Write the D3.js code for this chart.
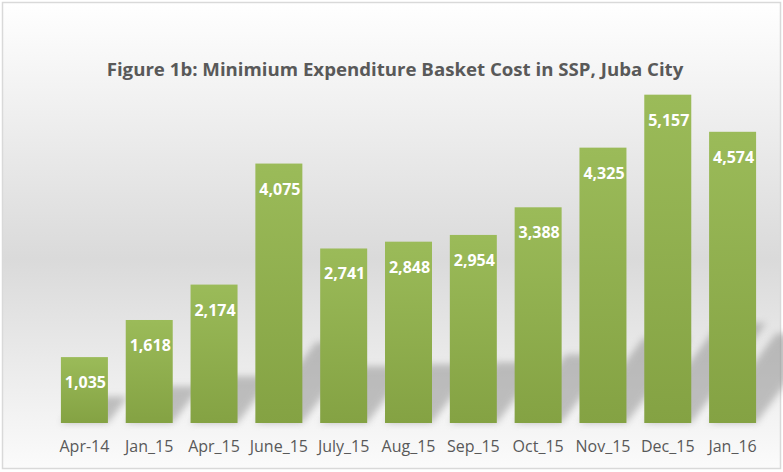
<!DOCTYPE html>
<html>
<head>
<meta charset="utf-8">
<style>
html, body { margin: 0; padding: 0; background: #fff; }
text { font-family: "Open Sans", sans-serif; }
.title { font-weight: bold; fill: #595959; }
.tick text { fill: #595959; font-size: 16px; }
.val { fill: #fff; font-weight: bold; font-size: 16px; }
</style>
</head>
<body>
<script src="https://cdn.jsdelivr.net/npm/d3@7"></script>
<script>
var categories = ['Apr-14', 'Jan_15', 'Apr_15', 'June_15', 'July_15', 'Aug_15', 'Sep_15', 'Oct_15', 'Nov_15', 'Dec_15', 'Jan_16']
var values = [1035, 1618, 2174, 4075, 2741, 2848, 2954, 3388, 4325, 5157, 4574]
var title = 'Figure 1b: Minimium Expenditure Basket Cost in SSP, Juba City'

var width = 783
var height = 472
var base = 423

var svg = d3.select('body').append('svg')
    .attr('width', width)
    .attr('height', height)

var defs = svg.append('defs')

var bg = defs.append('linearGradient').attr('id', 'bg')
    .attr('x1', 0).attr('y1', 0).attr('x2', 0).attr('y2', 1)
bg.append('stop').attr('offset', '0%').attr('stop-color', '#ffffff')
bg.append('stop').attr('offset', '55%').attr('stop-color', '#dadada')
bg.append('stop').attr('offset', '78%').attr('stop-color', '#ebebeb')
bg.append('stop').attr('offset', '100%').attr('stop-color', '#fbfbfb')

var barGrad = defs.append('linearGradient').attr('id', 'bar')
    .attr('x1', 0).attr('y1', 0).attr('x2', 0).attr('y2', 1)
barGrad.append('stop').attr('offset', '0%').attr('stop-color', '#9bbb59')
barGrad.append('stop').attr('offset', '100%').attr('stop-color', '#84a243')

defs.append('filter').attr('id', 'blur')
    .attr('x', '-50%').attr('y', '-50%').attr('width', '200%').attr('height', '200%')
  .append('feGaussianBlur').attr('stdDeviation', 3.5)

// chart area with border
svg.append('rect')
    .attr('x', 2.5).attr('y', 2.5)
    .attr('width', width - 5).attr('height', 466)
    .attr('fill', 'url(#bg)')
    .attr('stroke', '#d9d9d9')
    .attr('stroke-width', 1.5)

var x = d3.scaleBand()
    .domain(categories)
    .range([52, 765])
    .paddingInner(0.275)
    .paddingOuter(0.1375)

var y = d3.scaleLinear()
    .domain([0, 6000])
    .range([base, 41])

// perspective shadows behind bars
svg.append('g').selectAll('path')
    .data(values)
    .join('path')
    .attr('d', function (d, i) {
        var x0 = x(categories[i])
        var x1 = x0 + x.bandwidth()
        var h = (base - y(d)) * 0.28 + 8
        var dx = h * 0.75
        return 'M' + x0 + ',' + base + 'L' + x1 + ',' + base +
            'L' + (x1 + dx) + ',' + (base - h) + 'L' + (x0 + dx) + ',' + (base - h) + 'Z'
    })
    .attr('fill', '#8a8a8a')
    .attr('opacity', 0.5)
    .attr('filter', 'url(#blur)')

svg.append('g').selectAll('rect')
    .data(values)
    .join('rect')
    .attr('x', function (d, i) { return x(categories[i]) })
    .attr('y', function (d) { return y(d) })
    .attr('width', x.bandwidth())
    .attr('height', function (d) { return base - y(d) })
    .attr('fill', 'url(#bar)')

svg.append('g').selectAll('text')
    .data(values)
    .join('text')
    .attr('class', 'val')
    .attr('x', function (d, i) { return x(categories[i]) + x.bandwidth() / 2 + 1 })
    .attr('y', function (d) { return y(d) + 31 })
    .attr('text-anchor', 'middle')
    .text(function (d) { return d3.format(',')(d) })

var axis = svg.append('g')
    .attr('transform', 'translate(0,' + base + ')')
    .call(d3.axisBottom(x).tickSize(0).tickPadding(18))
axis.select('.domain').remove()
axis.selectAll('.tick text').attr('font-family', null)

var t = svg.append('text')
    .attr('class', 'title')
    .attr('x', 395)
    .attr('y', 76)
    .attr('text-anchor', 'middle')
    .style('font-size', '16px')
    .text(title)
var len = t.node().getComputedTextLength()
t.style('font-size', (16 * 577 / len) + 'px')
</script>
</body>
</html>
